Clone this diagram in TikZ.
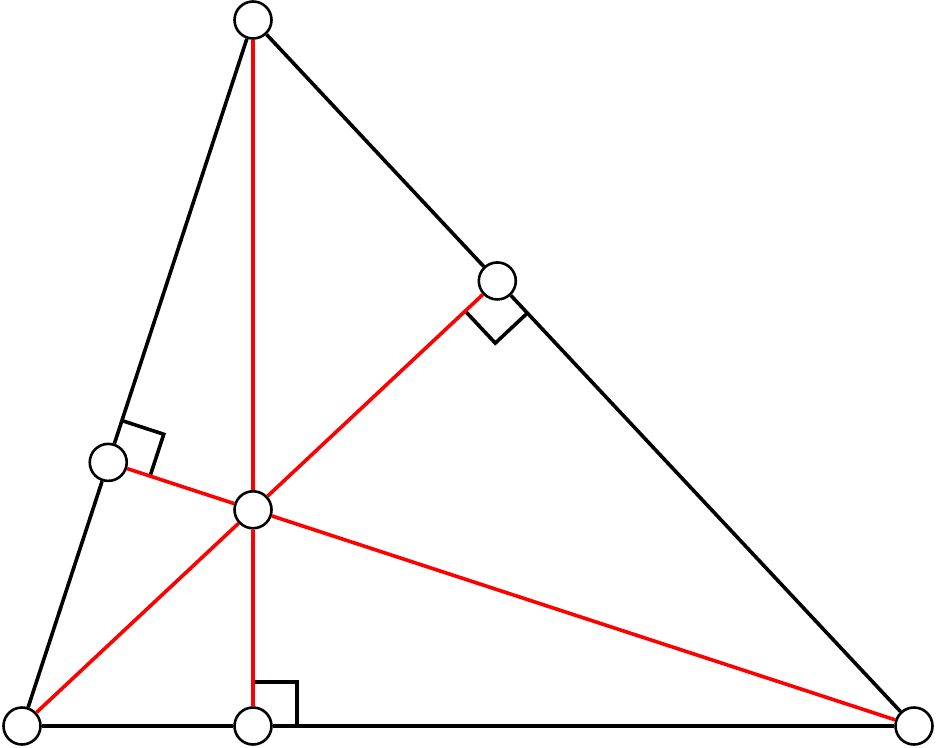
\documentclass[tikz,border=0pt]{standalone}
\usetikzlibrary{calc}
\begin{document}
\begin{tikzpicture}[x=1pt,y=-1pt,
  pt/.style={circle,draw=black,fill=white,line width=2.6pt,minimum size=37pt,inner sep=0pt},
  side/.style={draw=black,line width=3.6pt},
  alt/.style={draw=red,line width=3.6pt},
  rmark/.style={draw=black,line width=3.6pt}]
\useasboundingbox (0,0) rectangle (936,747);
\coordinate (pA) at (22,726);
\coordinate (pB) at (914,726);
\coordinate (pC) at (253,20);
\coordinate (pD) at ($(pA)!(pC)!(pB)$);
\coordinate (pE) at ($(pC)!(pA)!(pB)$);
\coordinate (pF) at ($(pA)!(pB)!(pC)$);
\coordinate (pH) at (intersection of pA--pE and pC--pD);
% right angle marks
\coordinate (d1) at ($(pD)!44pt!(pB)$);
\coordinate (d2) at ($(pD)!44pt!(pC)$);
\coordinate (e1) at ($(pE)!44pt!(pB)$);
\coordinate (e2) at ($(pE)!44pt!(pA)$);
\coordinate (f1) at ($(pF)!44pt!(pC)$);
\coordinate (f2) at ($(pF)!44pt!(pB)$);
\draw[rmark] (d1) -- ($(d1)+(d2)-(pD)$) -- (d2);
\draw[rmark] (e1) -- ($(e1)+(e2)-(pE)$) -- (e2);
\draw[rmark] (f1) -- ($(f1)+(f2)-(pF)$) -- (f2);
% nodes
\node[pt] (A) at (pA) {};
\node[pt] (B) at (pB) {};
\node[pt] (C) at (pC) {};
\node[pt] (D) at (pD) {};
\node[pt] (E) at (pE) {};
\node[pt] (F) at (pF) {};
\node[pt] (H) at (pH) {};
% altitudes
\draw[alt] (A) -- (H); \draw[alt] (H) -- (E);
\draw[alt] (C) -- (H); \draw[alt] (H) -- (D);
\draw[alt] (B) -- (H); \draw[alt] (H) -- (F);
% sides
\draw[side] (A) -- (F); \draw[side] (F) -- (C);
\draw[side] (C) -- (E); \draw[side] (E) -- (B);
\draw[side] (B) -- (D); \draw[side] (D) -- (A);
\end{tikzpicture}
\end{document}
